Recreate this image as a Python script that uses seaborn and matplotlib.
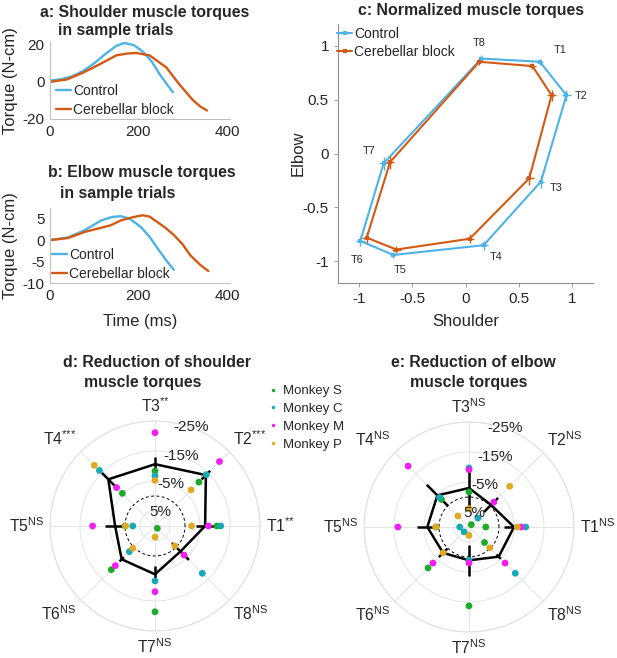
import numpy as np
import pandas as pd
import matplotlib
matplotlib.use("Agg")
import matplotlib.pyplot as plt
from matplotlib.lines import Line2D
import seaborn as sns

sns.set_style("white")
plt.rcParams["font.family"] = ["Liberation Sans", "DejaVu Sans"]
plt.rcParams["axes.unicode_minus"] = False

W, H = 617, 658

# ---- a/b: sample trial torques (N-cm) vs time (ms)
t_ctrl_sh = [0, 25, 50, 75, 100, 125, 150, 168, 190, 210, 230, 248, 265, 278]
tq_ctrl_sh = [0.7, 1.4, 3.0, 5.9, 10.0, 15.0, 19.4, 21.0, 19.8, 16.3, 11.0, 4.1, -1.5, -5.6]
t_cb_sh = [0, 38, 75, 113, 150, 175, 195, 225, 263, 293, 323, 340, 355]
tq_cb_sh = [0.0, 1.3, 5.0, 9.6, 14.3, 15.3, 15.6, 14.3, 7.8, -1.5, -9.8, -13.3, -15.4]

t_ctrl_el = [0, 40, 78, 116, 140, 160, 180, 205, 225, 243, 265, 280]
tq_ctrl_el = [0.0, 0.6, 2.3, 4.6, 5.4, 5.6, 5.0, 3.1, 0.8, -1.9, -5.0, -6.9]
t_cb_el = [0, 41, 78, 116, 138, 160, 185, 209, 225, 243, 262, 280, 300, 317, 340, 358]
tq_cb_el = [0.0, 0.5, 1.9, 2.9, 3.5, 4.6, 5.3, 5.8, 5.5, 4.2, 2.8, 1.2, -1.0, -3.5, -5.8, -7.2]

# ---- c: normalized torques per target
targets = ["T1", "T2", "T3", "T4", "T5", "T6", "T7", "T8"]
ctrl_sh = [0.70, 0.95, 0.71, 0.17, -0.68, -0.99, -0.77, 0.15]
ctrl_el = [0.85, 0.54, -0.26, -0.85, -0.94, -0.81, -0.09, 0.88]
cb_sh = [0.63, 0.81, 0.60, 0.04, -0.65, -0.93, -0.71, 0.13]
cb_el = [0.81, 0.54, -0.23, -0.79, -0.89, -0.78, -0.08, 0.85]
ctrl_sh_err = [0.03, 0.04, 0.03, 0.04, 0.03, 0.04, 0.04, 0.03]
ctrl_el_err = [0.03, 0.05, 0.06, 0.04, 0.03, 0.05, 0.06, 0.03]
cb_sh_err = [0.03, 0.04, 0.04, 0.04, 0.04, 0.04, 0.04, 0.03]
cb_el_err = [0.03, 0.05, 0.06, 0.04, 0.03, 0.05, 0.06, 0.03]
lab_x = [0.89, 1.09, 0.85, 0.29, -0.62, -1.02, -0.91, 0.13]
lab_y = [0.96, 0.53, -0.32, -0.96, -1.08, -0.99, 0.02, 1.02]

# ---- d/e: reduction (%) per target
sh_stars = ["{*}{*}", "{*}{*}{*}", "{*}{*}", "{*}{*}{*}", "NS", "NS", "NS", "NS"]
el_stars = ["NS"] * 8
sh_mean = [-6.7, -14.0, -10.6, -12.0, -3.3, -5.7, -6.1, -2.0]
sh_err = [3.0, 2.0, 2.5, 3.0, 3.5, 1.0, 2.8, 4.0]
el_mean = [-5.0, -0.4, -3.0, -4.9, -3.9, -2.2, -1.1, -4.0]
el_err = [3.5, 3.3, 6.0, 5.0, 3.5, 2.0, 5.1, 1.0]

monkeys = ["Monkey S", "Monkey C", "Monkey M", "Monkey P"]
sh_S = [-10.6, -10.7, -8.3, -5.4, 0.0, -10.6, -18.6, 8.9]
sh_C = [-11.9, -14.2, -6.7, -16.2, 2.6, -2.1, -8.3, -12.3]
sh_M = [-7.8, -20.4, -21.1, -8.1, -10.8, -8.7, -11.9, -3.7]
sh_P = [-2.2, -7.0, -5.2, -18.6, 0.2, -0.5, 6.3, 0.6]
el_S = [4.4, 8.9, -1.7, -3.0, -1.0, -9.3, -16.3, 2.7]
el_C = [-8.9, 5.8, -9.7, -3.9, 6.9, 7.7, -1.1, -11.8]
el_M = [-7.4, -1.7, -9.1, -18.7, -13.7, -7.0, -2.0, -7.0]
el_P = [-6.1, -9.2, 3.9, 4.8, -1.1, -2.2, 7.2, 0.2]

BLUE = "#4DB3E6"
ORANGE = "#D35A14"
mk_colors = {"Monkey S": "#1DAA2A", "Monkey C": "#17A9B4",
             "Monkey M": "#F01EF0", "Monkey P": "#DDAA22"}


def fx(px):
    return px / W


def fy(py):
    return 1 - py / H


def ax_box(left, top, right, bottom):
    return [fx(left), fy(bottom), (right - left) / W, (bottom - top) / H]


fig = plt.figure(figsize=(W / 100, H / 100), dpi=100)


def torque_panel(box, t1, y1, t2, y2, ylim, yticks, leg_xy, xlabel):
    ax = fig.add_axes(box)
    df = pd.concat([
        pd.DataFrame({"time": t1, "torque": y1, "cond": "Control"}),
        pd.DataFrame({"time": t2, "torque": y2, "cond": "Cerebellar block"}),
    ])
    sns.lineplot(data=df, x="time", y="torque", hue="cond", sort=False, estimator=None,
                 palette={"Control": BLUE, "Cerebellar block": ORANGE}, lw=1.7, ax=ax)
    ax.set_xlim(0, 407)
    ax.set_ylim(*ylim)
    ax.set_xticks([0, 200, 400])
    ax.set_yticks(yticks)
    ax.tick_params(length=0, labelsize=11, pad=4)
    sns.despine(ax=ax)
    for s in ("left", "bottom"):
        ax.spines[s].set_color("#c0c0c0")
        ax.spines[s].set_linewidth(0.8)
    ax.set_ylabel("Torque (N-cm)", fontsize=12)
    ax.yaxis.set_label_coords(-0.175, 0.5)
    if xlabel:
        ax.set_xlabel(xlabel, fontsize=12)
        ax.xaxis.set_label_coords(0.5, -0.41)
    else:
        ax.set_xlabel("")
    ax.legend(loc="upper left", bbox_to_anchor=(fx(leg_xy[0]), fy(leg_xy[1])),
              bbox_transform=fig.transFigure, frameon=False, fontsize=10,
              handlelength=1.1, handletextpad=0.15, labelspacing=0.36, borderpad=0,
              borderaxespad=0)
    return ax


torque_panel(ax_box(50, 42, 230, 119), t_ctrl_sh, tq_ctrl_sh, t_cb_sh, tq_cb_sh,
             (-20, 21.5), [-20, 0, 20], (56, 84), None)
torque_panel(ax_box(50, 208, 230, 283), t_ctrl_el, tq_ctrl_el, t_cb_el, tq_cb_el,
             (-10, 7.5), [-10, -5, 0, 5], (52, 248), "Time (ms)")

fig.text(fx(145), fy(12), "a: Shoulder muscle torques", ha="center", va="center",
         fontsize=11.4, fontweight="bold")
fig.text(fx(116), fy(31), "in sample trials", ha="center", va="center",
         fontsize=11.4, fontweight="bold")
fig.text(fx(142), fy(172), "b: Elbow muscle torques", ha="center", va="center",
         fontsize=11.4, fontweight="bold")
fig.text(fx(118), fy(193), "in sample trials", ha="center", va="center",
         fontsize=11.4, fontweight="bold")

# ---- panel c
axc = fig.add_axes(ax_box(338, 24, 593, 283))
for xs, ys, xe, ye, col, lab in [
    (ctrl_sh, ctrl_el, ctrl_sh_err, ctrl_el_err, BLUE, "Control"),
    (cb_sh, cb_el, cb_sh_err, cb_el_err, ORANGE, "Cerebellar block"),
]:
    sns.lineplot(x=xs + xs[:1], y=ys + ys[:1], sort=False, estimator=None, color=col,
                 lw=1.5, marker="s", markersize=3, markeredgewidth=0, label=lab, ax=axc)
    axc.errorbar(xs, ys, xerr=xe, yerr=ye, fmt="none", ecolor=col, elinewidth=1.0,
                 capsize=0)
for tx, ty, tl in zip(lab_x, lab_y, targets):
    axc.text(tx, ty, tl, ha="center", va="center", fontsize=7.8)
axc.set_xlim(-1.2, 1.2)
axc.set_ylim(-1.2, 1.2)
axc.set_xticks([-1, -0.5, 0, 0.5, 1])
axc.set_yticks([-1, -0.5, 0, 0.5, 1])
axc.set_xticklabels(["-1", "-0.5", "0", "0.5", "1"])
axc.set_yticklabels(["-1", "-0.5", "0", "0.5", "1"])
axc.tick_params(length=3, width=0.6, color="#909090", labelsize=11, direction="out",
                bottom=True, left=True)
sns.despine(ax=axc)
for s in ("left", "bottom"):
    axc.spines[s].set_color("#909090")
    axc.spines[s].set_linewidth(0.8)
axc.set_xlabel("Shoulder", fontsize=12)
axc.set_ylabel("Elbow", fontsize=12)
axc.xaxis.set_label_coords(0.5, -0.12)
axc.yaxis.set_label_coords(-0.125, 0.5)
axc.legend(loc="upper left", bbox_to_anchor=(fx(337), fy(27)), bbox_transform=fig.transFigure,
           frameon=False, fontsize=10, handlelength=1.1, handletextpad=0.15,
           labelspacing=0.3, borderpad=0, borderaxespad=0)
fig.text(fx(471), fy(10), "c: Normalized muscle torques", ha="center", va="center",
         fontsize=11.4, fontweight="bold")

# ---- panels d and e (polar)
theta = np.deg2rad(np.arange(0, 360, 45))
align = [("left", "center"), ("left", "bottom"), ("center", "bottom"), ("right", "bottom"),
         ("right", "center"), ("right", "top"), ("center", "top"), ("left", "top")]


def polar_panel(cx, cy, mean, err, per_monkey, stars):
    R = 105
    axp = fig.add_axes(ax_box(cx - R, cy - R, cx + R, cy + R), projection="polar")
    df = pd.concat([pd.DataFrame({"theta": theta, "value": vals, "monkey": m})
                    for m, vals in zip(monkeys, per_monkey)])
    axp.plot(np.append(theta, theta[0]), np.append(mean, mean[0]), color="k", lw=1.8,
             zorder=2)
    axp.errorbar(theta, mean, yerr=err, fmt="none", ecolor="k", elinewidth=1.8, capsize=0,
                 zorder=2)
    circ = np.linspace(0, 2 * np.pi, 200)
    axp.plot(circ, np.zeros_like(circ), color="k", lw=0.7, ls=(0, (3, 2.5)), zorder=1)
    sns.scatterplot(data=df, x="theta", y="value", hue="monkey", palette=mk_colors,
                    s=24, edgecolor="none", legend=False, zorder=3, ax=axp)
    axp.set_xlabel("")
    axp.set_ylabel("")
    axp.set_xticks(theta)
    axp.set_xticklabels([])
    axp.set_yticks([5, -5, -15, -25])
    axp.set_yticklabels([])
    axp.set_ylim(10, -25)
    axp.grid(color="#e4e4e4", lw=0.7)
    axp.spines["polar"].set_color("#e0e0e0")
    axp.spines["polar"].set_linewidth(0.8)
    axp.tick_params(length=0)
    for rv in [5, -5, -15, -25]:
        axp.text(np.deg2rad(70), rv, f"{rv}%", ha="center", va="center", fontsize=11,
                 zorder=4)
    for th, tl, st, (ha, va) in zip(theta, targets, stars, align):
        axp.text(th, -27, f"$\\mathregular{{{tl}^{{{st}}}}}$", ha=ha, va=va,
                 fontsize=11.3, clip_on=False)
    return axp


polar_panel(155, 526, sh_mean, sh_err, [sh_S, sh_C, sh_M, sh_P], sh_stars)
polar_panel(469, 527, el_mean, el_err, [el_S, el_C, el_M, el_P], el_stars)

fig.text(fx(157), fy(362), "d: Reduction of shoulder", ha="center", va="center",
         fontsize=11.4, fontweight="bold")
fig.text(fx(143), fy(382), "muscle torques", ha="center", va="center",
         fontsize=11.4, fontweight="bold")
fig.text(fx(473), fy(362), "e: Reduction of elbow", ha="center", va="center",
         fontsize=11.4, fontweight="bold")
fig.text(fx(469), fy(383), "muscle torques", ha="center", va="center",
         fontsize=11.4, fontweight="bold")

handles = [Line2D([], [], ls="none", marker="o", ms=2.5, mec="none", mfc=mk_colors[m])
           for m in monkeys]
fig.legend(handles, monkeys, loc="upper left", bbox_to_anchor=(fx(268), fy(385)),
           frameon=False, fontsize=9.5, handlelength=0.8, handletextpad=0.3,
           labelspacing=0.42, borderpad=0, borderaxespad=0)

fig.savefig("out.png", dpi=100)
